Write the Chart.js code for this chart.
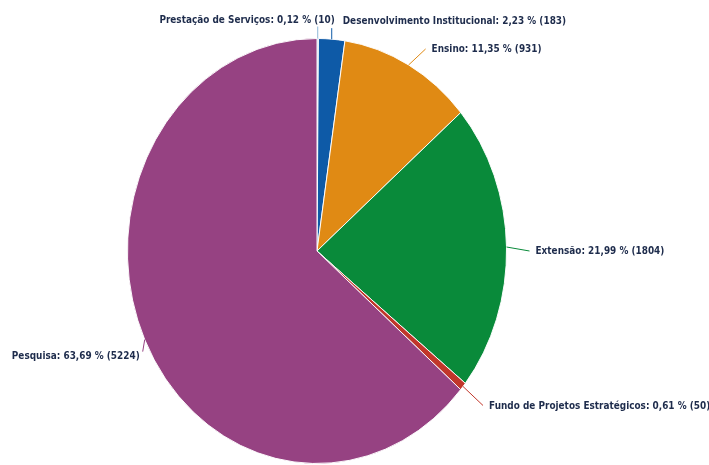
<!DOCTYPE html>
<html lang="pt">
<head>
    <meta charset="utf-8" />
    <title>Projetos por modalidade</title>
    <script src="https://cdn.jsdelivr.net/npm/chart.js@4.4.0/dist/chart.umd.min.js"></script>
    <style>
        body { margin: 0; background: #fff; }
        canvas { display: block; }
    </style>
</head>
<body>
    <canvas id="pieModalidades" width="709" height="465"></canvas>

    <script>
        // dados
        var categorias = ["Prestação de Serviços", "Desenvolvimento Institucional", "Ensino", "Extensão", "Fundo de Projetos Estratégicos", "Pesquisa"];
        var quantidades = [10, 183, 931, 1804, 50, 5224];
        var coresFatias = ["#8fb8d8", "#0e5aa7", "#e08a14", "#098a3a", "#c1362a", "#964282"];

        // onde vai cada rotulo, relativo ao ponto da borda da fatia
        // [fim da linha dx, dy, texto dx, dy, alinhamento]
        var posRotulos = [
            [0, -12, 17, -18, 'right'],
            [0, -11, 11, -18, 'left'],
            [17, -16, 23, -16, 'left'],
            [23, 4, 29, 4, 'left'],
            [20, 19, 26, 20, 'left'],
            [-2, 12, -5, 17, 'right']
        ];

        var escalaX = 0.892;   // pizza achatada na horizontal
        var escalaTexto = 0.81;

        var total = quantidades.reduce(function (a, b) { return a + b; }, 0);

        // achata a pizza (elipse)
        var achatar = {
            id: 'achatar',
            beforeDatasetsDraw: function (chart) {
                var arc = chart.getDatasetMeta(0).data[0];
                var ctx = chart.ctx;
                ctx.save();
                ctx.translate(arc.x, 0);
                ctx.scale(escalaX, 1);
                ctx.translate(-arc.x, 0);
            },
            afterDatasetsDraw: function (chart) {
                chart.ctx.restore();
            }
        };

        // rotulos externos com linha
        var rotulos = {
            id: 'rotulos',
            afterDraw: function (chart) {
                var ctx = chart.ctx;
                var meta = chart.getDatasetMeta(0);
                meta.data.forEach(function (arc, i) {
                    var p = arc.getProps(['x', 'y', 'startAngle', 'endAngle', 'outerRadius'], true);
                    var meio = (p.startAngle + p.endAngle) / 2;
                    var ex = p.x + escalaX * p.outerRadius * Math.cos(meio);
                    var ey = p.y + p.outerRadius * Math.sin(meio);
                    var pos = posRotulos[i];

                    ctx.save();
                    ctx.strokeStyle = coresFatias[i];
                    ctx.lineWidth = 1;
                    ctx.beginPath();
                    ctx.moveTo(ex, ey);
                    ctx.lineTo(ex + pos[0], ey + pos[1]);
                    ctx.stroke();

                    var pct = (quantidades[i] / total * 100).toFixed(2).replace('.', ',');
                    var texto = categorias[i] + ': ' + pct + ' % (' + quantidades[i] + ')';
                    ctx.translate(ex + pos[2], ey + pos[3]);
                    ctx.scale(escalaTexto, 1);
                    ctx.font = 'bold 11px "DejaVu Sans"';
                    ctx.fillStyle = '#1e2c4c';
                    ctx.textAlign = pos[4];
                    ctx.textBaseline = 'middle';
                    ctx.fillText(texto, 0, 0);
                    ctx.restore();
                });
            }
        };

        var canvasPie = document.getElementById('pieModalidades').getContext('2d');

        var pieChart = new Chart(canvasPie, {
            type: 'pie',
            data: {
                labels: categorias,
                datasets: [{
                    data: quantidades,
                    backgroundColor: coresFatias,
                    borderColor: '#ffffff',
                    borderWidth: 1,
                    hoverOffset: 0
                }]
            },
            options: {
                responsive: false,
                animation: false,
                layout: {
                    padding: { left: 104, right: 179, top: 37, bottom: -2 }
                },
                plugins: {
                    legend: { display: false },
                    tooltip: { enabled: false }
                }
            },
            plugins: [achatar, rotulos]
        });
    </script>
</body>
</html>
